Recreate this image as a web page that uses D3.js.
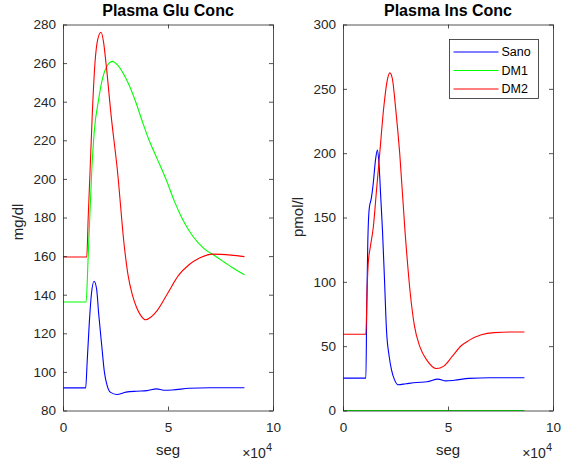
<!DOCTYPE html>
<html>
<head>
<meta charset="utf-8">
<script src="https://cdn.jsdelivr.net/npm/d3@7"></script>
<style>
  body { margin: 0; background: #fff; }
  svg { font-family: "Liberation Sans", Arial, sans-serif; }
</style>
</head>
<body>
<div id="chart"></div>
<script>
// time in seconds, value pairs
const gluSano = [[0, 91.7], [10800, 91.7], [11500, 105], [12500, 125], [13500, 140], [14800, 147], [16000, 143],
  [17000, 130], [18500, 113], [19700, 100], [21000, 93], [22500, 89.5], [25600, 88.3], [30000, 89.5],
  [35000, 90], [40000, 90.3], [44600, 91.2], [48000, 90.5], [52000, 90.6], [60000, 91.5], [70000, 91.8], [86400, 91.8]];
const gluDM1 = [[0, 136.2], [11000, 136.2], [12000, 160], [13700, 204.5], [15000, 226], [16800, 240], [18400, 250],
  [20500, 257.5], [23500, 260.9], [26000, 259], [30000, 252], [34600, 240], [38000, 229], [41000, 220],
  [45000, 210], [49200, 199.4], [53000, 188.5], [57100, 178.7], [62000, 170], [67000, 164], [73000, 159.7],
  [80000, 154.5], [86400, 150.3]];
const gluDM2 = [[0, 159.5], [11300, 159.5], [12000, 180], [12900, 204.5], [14000, 235], [15200, 259.7], [16500, 272],
  [18100, 276], [19300, 271], [20500, 259.7], [23000, 232], [25900, 204.5], [29200, 165], [31000, 150],
  [33000, 140], [35000, 133.5], [37000, 129.3], [39400, 127], [42000, 128.5], [45000, 132], [50000, 141],
  [55000, 150], [60000, 155.5], [65000, 159], [71400, 161], [80000, 160.5], [86400, 159.7]];

const insSano = [[0, 25.2], [10900, 25.2], [11300, 80], [11800, 130], [12500, 157], [13500, 165], [14400, 176.5],
  [15500, 195], [16400, 202.4], [17200, 190], [18000, 165], [18800, 140], [19800, 100], [20700, 62.7],
  [22000, 42], [23100, 31.6], [24500, 24], [26200, 20], [30000, 20.8], [35000, 21.8], [40000, 22.3],
  [45200, 24.4], [49000, 23], [53000, 23.5], [60000, 25], [70000, 25.5], [86400, 25.5]];
const insDM1 = [[0, 0], [86400, 0]];
const insDM2 = [[0, 59.3], [10900, 59.3], [11500, 95], [12000, 114], [13000, 127], [14400, 142], [16000, 172],
  [17500, 200], [19500, 237], [21000, 256], [22300, 262.4], [23500, 258], [25000, 236], [27000, 200],
  [29500, 140], [32100, 90], [34000, 66], [36500, 50], [40000, 39], [44500, 32.6], [48000, 34.5],
  [52000, 42], [56400, 50.5], [60000, 54.5], [65900, 58.8], [72000, 60.5], [80000, 61], [86400, 61]];

const seriesNames = ["Sano", "DM1", "DM2"];
const seriesColors = ["#0000ff", "#00ff00", "#ff0000"];
const xTicks = [0, 50000, 100000];
const gluTicks = [80, 100, 120, 140, 160, 180, 200, 220, 240, 260, 280];
const insTicks = [0, 50, 100, 150, 200, 250, 300];

const W = 562, H = 466;
const axColor = "#262626";
const svg = d3.select("#chart").append("svg").attr("width", W).attr("height", H);

const drawPanel = (opts) => {
  const { left, right, top, bottom, yDomain, yTicks, series, title, ylabel, ylabelY } = opts;
  const x = d3.scaleLinear().domain([0, 100000]).range([left, right]);
  const y = d3.scaleLinear().domain(yDomain).range([bottom, top]);
  const g = svg.append("g");
  const tickLen = 4;

  // lines
  const line = d3.line().x((d) => x(d[0])).y((d) => y(d[1])).curve(d3.curveMonotoneX);
  series.forEach((s, i) => {
    g.append("path")
      .attr("d", line(s))
      .attr("fill", "none")
      .attr("stroke", seriesColors[i])
      .attr("stroke-width", 1.1);
  });

  // box + ticks
  const bottomAxis = d3.axisBottom(x).tickValues(xTicks).tickSizeInner(-tickLen).tickSizeOuter(0)
    .tickPadding(12).tickFormat((d) => d / 10000);
  const topAxis = d3.axisTop(x).tickValues(xTicks).tickSizeInner(-tickLen).tickSizeOuter(0).tickFormat("");
  const leftAxis = d3.axisLeft(y).tickValues(yTicks).tickSizeInner(-tickLen).tickSizeOuter(0).tickPadding(7);
  const rightAxis = d3.axisRight(y).tickValues(yTicks).tickSizeInner(-tickLen).tickSizeOuter(0).tickFormat("");

  const styleAxis = (a) => {
    a.selectAll("path, line").attr("stroke", axColor).attr("stroke-width", 0.8);
    a.selectAll("text").attr("fill", axColor).style("font-size", "13.5px");
  };
  g.append("g").attr("transform", `translate(0,${bottom})`).call(bottomAxis).call(styleAxis);
  g.append("g").attr("transform", `translate(0,${top})`).call(topAxis).call(styleAxis);
  g.append("g").attr("transform", `translate(${left},0)`).call(leftAxis).call(styleAxis);
  g.append("g").attr("transform", `translate(${right},0)`).call(rightAxis).call(styleAxis);
  g.selectAll(".domain").attr("stroke", axColor).attr("stroke-width", 0.8);

  // title
  g.append("text")
    .attr("x", (left + right) / 2).attr("y", 16)
    .attr("text-anchor", "middle")
    .attr("fill", "#000")
    .style("font-size", "16px").style("font-weight", "bold")
    .text(title);

  // labels
  g.append("text")
    .attr("transform", `translate(${left - 40},${ylabelY}) rotate(-90)`)
    .attr("text-anchor", "middle")
    .attr("fill", axColor)
    .style("font-size", "15px")
    .text(ylabel);
  g.append("text")
    .attr("x", (left + right) / 2).attr("y", 455)
    .attr("text-anchor", "middle")
    .attr("fill", axColor)
    .style("font-size", "15px")
    .text("seg");
  const exp = g.append("text")
    .attr("x", right - 1).attr("y", 458)
    .attr("text-anchor", "end")
    .attr("fill", axColor)
    .style("font-size", "14px");
  exp.append("tspan").text("\u00d710");
  exp.append("tspan").attr("dy", -7).style("font-size", "11px").text("4");
  return { x, y, g };
};

drawPanel({ left: 63, right: 273, top: 24.5, bottom: 410.5, yDomain: [80, 280], yTicks: gluTicks,
  series: [gluSano, gluDM1, gluDM2], title: "Plasma Glu Conc", ylabel: "mg/dl", ylabelY: 222 });
drawPanel({ left: 343, right: 553, top: 24.5, bottom: 410.5, yDomain: [0, 300], yTicks: insTicks,
  series: [insSano, insDM1, insDM2], title: "Plasma Ins Conc", ylabel: "pmol/l", ylabelY: 217 });

// legend
const lg = svg.append("g").attr("transform", "translate(449.5,39.5)");
lg.append("rect").attr("width", 89).attr("height", 59)
  .attr("fill", "#fff").attr("stroke", axColor).attr("stroke-width", 0.8);
seriesNames.forEach((name, i) => {
  const yy = 12 + i * 18.5;
  lg.append("line").attr("x1", 4).attr("x2", 49).attr("y1", yy + 0.5).attr("y2", yy + 0.5)
    .attr("stroke", seriesColors[i]).attr("stroke-width", 1.1);
  lg.append("text").attr("x", 52).attr("y", yy + 4.5)
    .attr("fill", "#000").style("font-size", "12.5px").text(name);
});
</script>
</body>
</html>
